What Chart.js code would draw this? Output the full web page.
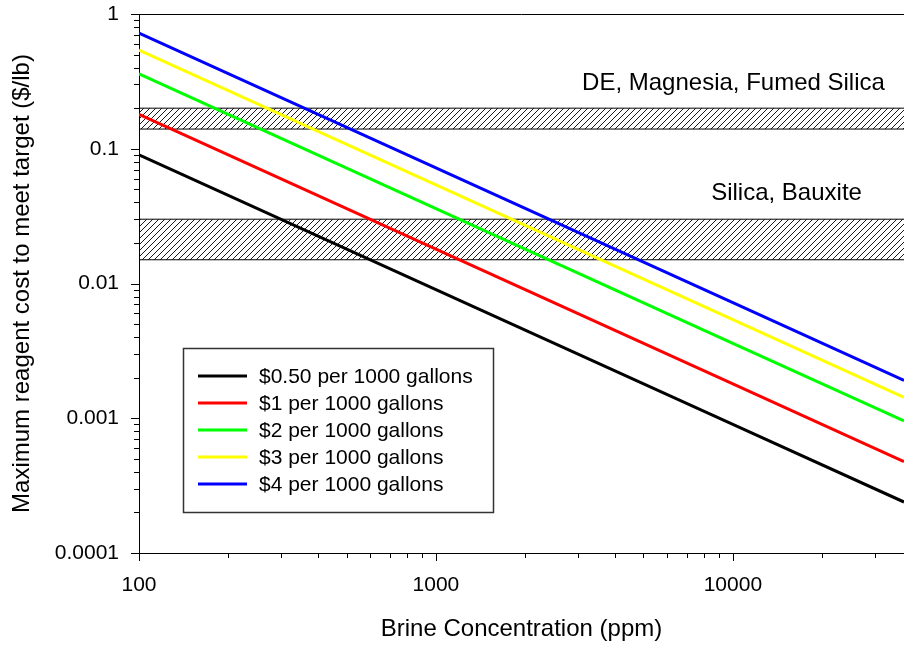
<!DOCTYPE html>
<html>
<head>
<meta charset="utf-8">
<script src="https://cdn.jsdelivr.net/npm/chart.js@4.4.1/dist/chart.umd.min.js"></script>
<style>
  html, body { margin: 0; padding: 0; background: #fff; }
  #wrap { width: 904px; height: 646px; }
</style>
</head>
<body>
<div id="wrap"><canvas id="costChart" width="904" height="646"></canvas></div>
<script>
// ---- data ----
const concentration = [100, 1000, 10000, 37700];
const cost050 = [0.09, 0.009, 0.0009, 0.000239];
const cost1 = [0.18, 0.018, 0.0018, 0.000477];
const cost2 = [0.36, 0.036, 0.0036, 0.000955];
const cost3 = [0.54, 0.054, 0.0054, 0.00143];
const cost4 = [0.72, 0.072, 0.0072, 0.00191];

const seriesLabels = ['$0.50 per 1000 gallons', '$1 per 1000 gallons', '$2 per 1000 gallons',
    '$3 per 1000 gallons', '$4 per 1000 gallons'];
const seriesColors = ['#000000', '#ff0000', '#00ff00', '#ffff00', '#0000ff'];

// hatched bands (low, high) and their labels
const bandLow = [0.14, 0.015];
const bandHigh = [0.2, 0.03];
const bandLabels = ['DE, Magnesia, Fumed Silica', 'Silica, Bauxite'];
const bandLabelX = [32500, 27200];
const bandLabelY = [0.307, 0.047];

const xTickLabels = ['100', '1000', '10000'];
const yTickLabels = ['0.0001', '0.001', '0.01', '0.1', '1'];
const xMin = 100, xMax = 37700;
const yMin = 0.0001, yMax = 1;

const FONT = "'Liberation Sans', Arial, sans-serif";

function makeHatch() {
    const c = document.createElement('canvas');
    c.width = 6; c.height = 6;
    const g = c.getContext('2d');
    g.strokeStyle = '#000';
    g.lineWidth = 0.9;
    g.beginPath();
    g.moveTo(0, 6); g.lineTo(6, 0);
    g.moveTo(-1, 1); g.lineTo(1, -1);
    g.moveTo(5, 7); g.lineTo(7, 5);
    g.stroke();
    return g.createPattern(c, 'repeat');
}
const hatch = makeHatch();

function logTicks(min, max) {
    // majors plus 2..9 minors per decade
    const out = [];
    for (let e = Math.floor(Math.log10(min)); e <= Math.ceil(Math.log10(max)); e++) {
        for (let m = 1; m <= 9; m++) {
            const v = parseFloat((m * Math.pow(10, e)).toPrecision(6));
            if (v >= min * 0.9999 && v <= max * 1.0001) out.push(v);
        }
    }
    return out;
}

function isMajor(v) {
    return Math.abs(Math.log10(v) - Math.round(Math.log10(v))) < 1e-9;
}

// line datasets
const lineSets = [cost050, cost1, cost2, cost3, cost4].map((vals, i) => ({
    label: seriesLabels[i],
    data: concentration.map((x, j) => ({ x: x, y: vals[j] })),
    borderColor: seriesColors[i],
    borderWidth: 3,
    pointRadius: 0,
    fill: false,
    order: 0,
    inLegend: true
}));

// band datasets (upper edge then lower edge filled to it)
const bandSets = [];
bandLow.forEach((low, i) => {
    bandSets.push({
        label: bandLabels[i] + ' top',
        data: [{ x: xMin, y: bandHigh[i] }, { x: xMax, y: bandHigh[i] }],
        borderColor: '#000', borderWidth: 1, pointRadius: 0, fill: false, order: 5
    });
    bandSets.push({
        label: bandLabels[i] + ' bottom',
        data: [{ x: xMin, y: low }, { x: xMax, y: low }],
        borderColor: '#000', borderWidth: 1, pointRadius: 0,
        fill: '-1', backgroundColor: hatch, order: 5
    });
});

// tick marks, top frame, band labels, legend box
const extras = {
    id: 'extras',
    afterDraw(chart) {
        const ctx = chart.ctx;
        const xs = chart.scales.x, ys = chart.scales.y;
        const area = chart.chartArea;
        ctx.save();
        ctx.strokeStyle = '#000';
        ctx.lineWidth = 1;

        // top frame
        ctx.beginPath();
        ctx.moveTo(area.left, area.top + 0.5);
        ctx.lineTo(area.right, area.top + 0.5);
        ctx.stroke();

        // x tick marks (outside, downward)
        ctx.beginPath();
        xs.ticks.forEach(t => {
            const px = Math.round(xs.getPixelForValue(t.value)) + 0.5;
            const len = isMajor(t.value) ? 8 : 5;
            ctx.moveTo(px, area.bottom);
            ctx.lineTo(px, area.bottom + len);
        });
        // y tick marks (outside, leftward)
        ys.ticks.forEach(t => {
            const py = Math.round(ys.getPixelForValue(t.value)) + 0.5;
            const len = isMajor(t.value) ? 8 : 5;
            ctx.moveTo(area.left, py);
            ctx.lineTo(area.left - len, py);
        });
        ctx.stroke();

        // band labels
        ctx.fillStyle = '#000';
        ctx.font = '24px ' + FONT;
        ctx.textAlign = 'right';
        ctx.textBaseline = 'middle';
        bandLabels.forEach((txt, i) => {
            ctx.fillText(txt, xs.getPixelForValue(bandLabelX[i]), ys.getPixelForValue(bandLabelY[i]));
        });

        // legend box
        const box = { left: 183, top: 348, width: 310, height: 164 };
        ctx.fillStyle = '#fff';
        ctx.fillRect(box.left, box.top, box.width, box.height);
        ctx.strokeStyle = '#333';
        ctx.lineWidth = 1.5;
        ctx.strokeRect(box.left + 0.5, box.top + 0.5, box.width, box.height);
        ctx.font = '21px ' + FONT;
        ctx.textAlign = 'left';
        ctx.lineWidth = 3;
        const rows = chart.data.datasets.filter(d => d.inLegend);
        rows.forEach((d, i) => {
            const y = box.top + 28 + i * 27;
            ctx.strokeStyle = d.borderColor;
            ctx.beginPath();
            ctx.moveTo(box.left + 15, y);
            ctx.lineTo(box.left + 64, y);
            ctx.stroke();
            ctx.fillStyle = '#000';
            ctx.fillText(d.label, box.left + 76, y + 1);
        });
        ctx.restore();
    }
};

new Chart(document.getElementById('costChart'), {
    type: 'line',
    data: { datasets: lineSets.concat(bandSets) },
    options: {
        responsive: false,
        animation: false,
        layout: { padding: { top: 14, right: 0, left: 0, bottom: 0 } },
        plugins: { legend: { display: false }, tooltip: { enabled: false } },
        scales: {
            x: {
                type: 'logarithmic',
                min: xMin, max: xMax,
                afterBuildTicks: s => { s.ticks = logTicks(xMin, xMax).map(v => ({ value: v })); },
                afterFit: s => { s.height = 93; s.paddingLeft = 0; s.paddingRight = 0; },
                grid: { display: false, drawTicks: false },
                border: { display: true, color: '#000', width: 1 },
                ticks: {
                    autoSkip: false, maxRotation: 0, padding: 20,
                    color: '#000', font: { family: FONT, size: 21 },
                    callback: v => {
                        const lbl = String(v);
                        return xTickLabels.includes(lbl) ? lbl : '';
                    }
                },
                title: {
                    display: true, text: 'Brine Concentration (ppm)', color: '#000',
                    font: { family: FONT, size: 24 }, padding: { top: 0, bottom: 2 }
                }
            },
            y: {
                type: 'logarithmic',
                min: yMin, max: yMax,
                afterBuildTicks: s => { s.ticks = logTicks(yMin, yMax).map(v => ({ value: v })); },
                afterFit: s => { s.width = 139; s.paddingTop = 0; s.paddingBottom = 0; },
                grid: { display: false, drawTicks: false },
                border: { display: true, color: '#000', width: 1 },
                ticks: {
                    autoSkip: false, padding: 20,
                    color: '#000', font: { family: FONT, size: 21 },
                    callback: v => {
                        const lbl = String(v);
                        return yTickLabels.includes(lbl) ? lbl : '';
                    }
                },
                title: {
                    display: true, text: 'Maximum reagent cost to meet target ($/lb)', color: '#000',
                    font: { family: FONT, size: 24 }, padding: { top: 8, bottom: 0 }
                }
            }
        }
    },
    plugins: [extras]
});
</script>
</body>
</html>
